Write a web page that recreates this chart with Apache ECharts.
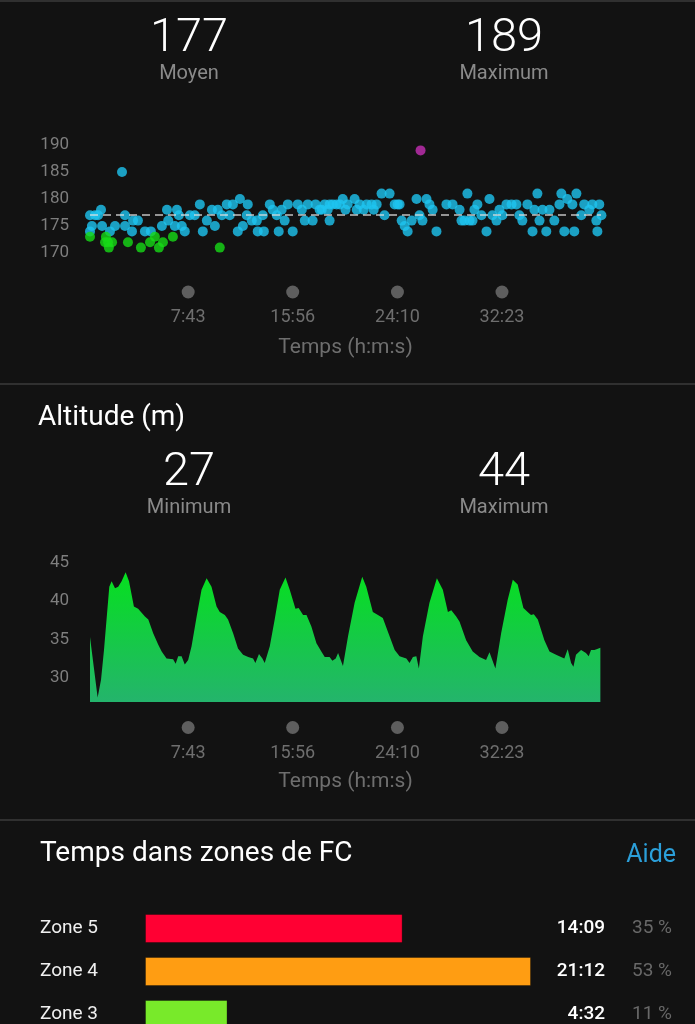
<!DOCTYPE html>
<html>
<head>
<meta charset="utf-8">
<title>Séance</title>
<script src="https://cdn.jsdelivr.net/npm/echarts@6/dist/echarts.min.js"></script>
<style>
html, body { margin: 0; padding: 0; background: #121212; }
#chart { width: 695px; height: 1024px; }
</style>
</head>
<body>
<div id="chart"></div>
<script>
'use strict';

// x axis: seconds since start, labelled at these points
var timeTicks = [463, 956, 1450, 1943];
var timeTickLabels = ['7:43', '15:56', '24:10', '32:23'];
var altTicks = [30, 35, 40, 45];

var hrStats = ['177', '189'];
var hrStatNames = ['Moyen', 'Maximum'];
var hrAverage = 177;
var altStats = ['27', '44'];
var altStatNames = ['Minimum', 'Maximum'];

// heart rate points [seconds, bpm]
var hrBlue = [
	[0, 177], [9, 175], [0, 174], [52, 178], [38, 177], [24, 177], [57, 175], [94, 174], [118, 175], [151, 185],
	[165, 177], [165, 175], [198, 174], [203, 176], [226, 176], [259, 174], [287, 174], [339, 175], [363, 178], [369, 176],
	[410, 178], [419, 177], [400, 175], [433, 175], [447, 174], [471, 177], [494, 177], [518, 179], [532, 174], [551, 176],
	[575, 178], [589, 175], [603, 178], [622, 177], [645, 179], [659, 177], [674, 179], [707, 180], [697, 174], [721, 175],
	[739, 177], [744, 179], [763, 176], [787, 176], [791, 174], [815, 177], [820, 174], [848, 179], [862, 178], [881, 177],
	[890, 174], [904, 178], [918, 176], [933, 179], [956, 174], [980, 179], [999, 178], [1013, 176], [1027, 179], [1050, 176],
	[1064, 179], [1083, 178], [1093, 178], [1107, 179], [1121, 178], [1130, 176], [1130, 179], [1145, 179], [1163, 179], [1178, 179],
	[1192, 180], [1205, 178], [1215, 179], [1248, 180], [1258, 178], [1272, 179], [1291, 178], [1305, 179], [1328, 179], [1338, 178],
	[1352, 179], [1375, 181], [1389, 177], [1413, 181], [1437, 179], [1451, 179], [1460, 179], [1470, 176], [1484, 175], [1498, 174],
	[1517, 176], [1540, 180], [1554, 177], [1568, 176], [1587, 180], [1601, 179], [1616, 178], [1634, 174], [1681, 179], [1710, 179],
	[1743, 178], [1752, 176], [1766, 176], [1780, 181], [1790, 176], [1804, 176], [1813, 178], [1827, 179], [1846, 177], [1870, 174],
	[1884, 180], [1898, 177], [1917, 176], [1931, 178], [1945, 177], [1964, 179], [1988, 179], [2011, 179], [2025, 177], [2039, 176],
	[2063, 179], [2087, 174], [2096, 178], [2110, 181], [2120, 176], [2134, 178], [2152, 174], [2167, 178], [2190, 176], [2214, 179],
	[2223, 181], [2237, 174], [2251, 180], [2275, 179], [2284, 174], [2294, 181], [2317, 177], [2331, 179], [2355, 178], [2369, 179],
	[2388, 176], [2393, 174], [2402, 179], [2412, 177]
];
var hrGreen = [
	[0, 173], [75, 173], [71, 172], [85, 172], [104, 172], [89, 171], [179, 172], [240, 171], [283, 172], [306, 173],
	[325, 171], [344, 172], [391, 173], [612, 171]
];
var hrPeak = [[1559, 189]];

// altitude profile [seconds, metres]
var altitude = [
	[0, 35.3], [36, 27.4], [52, 29.7], [66, 33.6], [91, 41.9], [102, 42.6], [118, 41.7], [133, 41.9], [149, 42.6], [168, 43.8],
	[184, 42.6], [207, 39.3], [227, 39.0], [259, 38.0], [275, 37.6], [298, 35.8], [322, 34.3], [338, 33.4], [361, 32.5], [392, 32.4],
	[404, 31.8], [416, 32.8], [432, 32.8], [447, 31.7], [463, 32.3], [479, 34.1], [503, 38.0], [526, 41.5], [550, 43.0], [573, 41.9],
	[597, 39.3], [612, 38.6], [636, 38.2], [651, 37.6], [675, 35.8], [698, 33.8], [722, 33.0], [746, 32.7], [769, 32.5], [780, 31.9],
	[797, 33.1], [813, 32.5], [824, 31.9], [848, 34.1], [871, 37.6], [895, 41.5], [922, 43.1], [942, 41.5], [969, 39.0], [984, 39.1],
	[1005, 38.2], [1021, 38.2], [1044, 36.7], [1068, 34.5], [1091, 33.4], [1107, 32.7], [1130, 32.7], [1143, 32.2], [1159, 32.5], [1170, 33.2],
	[1193, 31.5], [1217, 35.4], [1248, 39.8], [1284, 43.2], [1303, 41.9], [1334, 38.6], [1358, 38.2], [1381, 37.8], [1405, 36.0], [1437, 33.6],
	[1460, 32.8], [1492, 32.5], [1507, 31.9], [1523, 32.7], [1539, 32.8], [1551, 31.2], [1570, 35.4], [1601, 39.8], [1636, 43.0], [1664, 41.5],
	[1688, 38.6], [1704, 38.8], [1727, 38.0], [1743, 37.3], [1774, 34.9], [1805, 33.4], [1837, 32.7], [1868, 32.3], [1884, 33.3], [1912, 31.2],
	[1939, 35.8], [1970, 40.2], [1994, 42.8], [2017, 42.2], [2044, 39.1], [2064, 38.6], [2080, 38.2], [2093, 38.3], [2112, 37.6], [2143, 34.9],
	[2167, 33.4], [2198, 33.0], [2237, 32.5], [2253, 33.7], [2269, 31.9], [2280, 31.4], [2292, 33.0], [2316, 33.6], [2339, 33.2], [2352, 32.8],
	[2363, 33.6], [2379, 33.6], [2389, 33.7], [2407, 33.9]
];

var zoneNames = ['Zone 5', 'Zone 4', 'Zone 3'];
var zoneTimes = ['14:09', '21:12', '4:32'];
var zonePercents = ['35 %', '53 %', '11 %'];
var zoneColors = ['#ff0033', '#ff9d12', '#78ea2a'];

var FONT = 'Roboto, "Noto Sans", sans-serif';
var chart = echarts.init(document.getElementById('chart'));

function toSeconds(s) {
	var p = s.split(':');
	return Number(p[0]) * 60 + Number(p[1]);
}

function timeAxis(gridIndex, labelMargin, nameGap) {
	return {
		type: 'value',
		gridIndex: gridIndex,
		min: 0,
		max: 2410,
		axisLine: { show: false },
		axisTick: { show: false },
		splitLine: { show: false },
		axisLabel: {
			customValues: timeTicks,
			margin: labelMargin,
			formatter: function (value) {
				var i = timeTicks.indexOf(value);
				if (i < 0) return '';
				return '{dot| }\n{t|' + timeTickLabels[i] + '}';
			},
			rich: {
				dot: { width: 13, height: 13, lineHeight: 13, borderRadius: 6.5, backgroundColor: '#5e5e5e' },
				t: { fontSize: 18, lineHeight: 38, color: '#6e6e6e', fontFamily: FONT }
			}
		},
		name: 'Temps (h:m:s)',
		nameLocation: 'middle',
		nameGap: nameGap,
		nameTextStyle: { color: '#6e6e6e', fontSize: 21, lineHeight: 24, fontFamily: FONT }
	};
}

function text(x, y, str, size, color, align, weight) {
	return {
		type: 'text',
		x: x,
		y: y,
		style: {
			text: str,
			fill: color,
			font: (weight || 400) + ' ' + size + 'px ' + FONT,
			align: align,
			textAlign: align,
			verticalAlign: 'middle',
			textVerticalAlign: 'middle'
		}
	};
}

function divider(y) {
	return {
		type: 'line',
		shape: { x1: 0, y1: y, x2: 695, y2: y },
		style: { stroke: '#3b3b3b', lineWidth: 1.5 }
	};
}

var statX = [189, 504];
var graphics = [divider(1), divider(384), divider(820)];
for (var i = 0; i < 2; i++) {
	graphics.push(text(statX[i], 39, hrStats[i], 47, '#ffffff', 'center', 300));
	graphics.push(text(statX[i], 74, hrStatNames[i], 20, '#8a8a8a', 'center'));
	graphics.push(text(statX[i], 473, altStats[i], 47, '#ffffff', 'center', 300));
	graphics.push(text(statX[i], 508, altStatNames[i], 20, '#8a8a8a', 'center'));
}
graphics.push(text(38, 418, 'Altitude (m)', 28, '#ffffff', 'left'));
graphics.push(text(40, 854, 'Temps dans zones de FC', 28, '#ffffff', 'left'));
graphics.push(text(676, 856, 'Aide', 25, '#2b9fd9', 'right'));

var option = {
	backgroundColor: '#121212',
	animation: false,
	textStyle: { fontFamily: FONT },
	graphic: graphics,
	grid: [
		{ left: 90, right: 94, top: 145, height: 108, outerBoundsMode: 'none' },
		{ left: 90, right: 94, top: 563, height: 139, outerBoundsMode: 'none' },
		{ left: 145, right: 164, top: 907, height: 129, outerBoundsMode: 'none' }
	],
	xAxis: [
		timeAxis(0, 32.5, 83),
		timeAxis(1, 19, 68),
		{ type: 'value', gridIndex: 2, min: 0, max: 'dataMax', show: false }
	],
	yAxis: [
		{
			type: 'value', gridIndex: 0, min: 170, max: 190, interval: 5,
			axisLine: { show: false }, axisTick: { show: false }, splitLine: { show: false },
			axisLabel: { color: '#7e7e7e', fontSize: 17, margin: 21 }
		},
		{
			type: 'value', gridIndex: 1, min: 26.8, max: 45,
			axisLine: { show: false }, axisTick: { show: false }, splitLine: { show: false },
			axisLabel: { customValues: altTicks, color: '#7e7e7e', fontSize: 17, margin: 21 }
		},
		{
			type: 'category', gridIndex: 2, data: zoneNames, inverse: true,
			axisLine: { show: false }, axisTick: { show: false },
			axisLabel: { color: '#f0f0f0', fontSize: 19, align: 'left', margin: 105 }
		},
		{
			type: 'category', gridIndex: 2, data: zoneNames, inverse: true, position: 'right',
			axisLine: { show: false }, axisTick: { show: false },
			axisLabel: {
				margin: 0,
				formatter: function (value, index) {
					return '{t|' + zoneTimes[index] + '}{p|' + zonePercents[index] + '}';
				},
				rich: {
					t: { width: 74, align: 'right', color: '#ffffff', fontSize: 19, fontWeight: 500, fontFamily: FONT },
					p: { width: 67, align: 'right', color: '#686868', fontSize: 19, fontFamily: FONT }
				}
			}
		}
	],
	series: [
		{
			type: 'scatter', xAxisIndex: 0, yAxisIndex: 0, data: hrBlue,
			symbolSize: 10, clip: false, itemStyle: { color: '#1ec4f0' },
			markLine: {
				silent: true,
				symbol: ['none', 'none'],
				label: { show: false },
				lineStyle: { color: 'rgba(225,225,225,0.85)', type: [8, 5], width: 1.5 },
				data: [{ yAxis: hrAverage }]
			}
		},
		{
			type: 'scatter', xAxisIndex: 0, yAxisIndex: 0, data: hrGreen,
			symbolSize: 10, clip: false, itemStyle: { color: '#16db16' }
		},
		{
			type: 'scatter', xAxisIndex: 0, yAxisIndex: 0, data: hrPeak,
			symbolSize: 10, clip: false, itemStyle: { color: '#c62fb5' }
		},
		{
			type: 'line', xAxisIndex: 1, yAxisIndex: 1, data: altitude,
			symbol: 'none', lineStyle: { width: 0 },
			areaStyle: {
				origin: 'start',
				opacity: 1,
				color: new echarts.graphic.LinearGradient(0, 0, 0, 1, [
					{ offset: 0, color: '#06e01f' },
					{ offset: 1, color: '#24b46c' }
				])
			}
		},
		{
			type: 'bar', xAxisIndex: 2, yAxisIndex: 2, barWidth: 29,
			data: zoneTimes.map(function (t, i) {
				return {
					value: toSeconds(t),
					itemStyle: { color: zoneColors[i], borderColor: 'rgba(0,0,0,0.3)', borderWidth: 1 }
				};
			})
		}
	]
};

chart.setOption(option);
</script>
</body>
</html>
